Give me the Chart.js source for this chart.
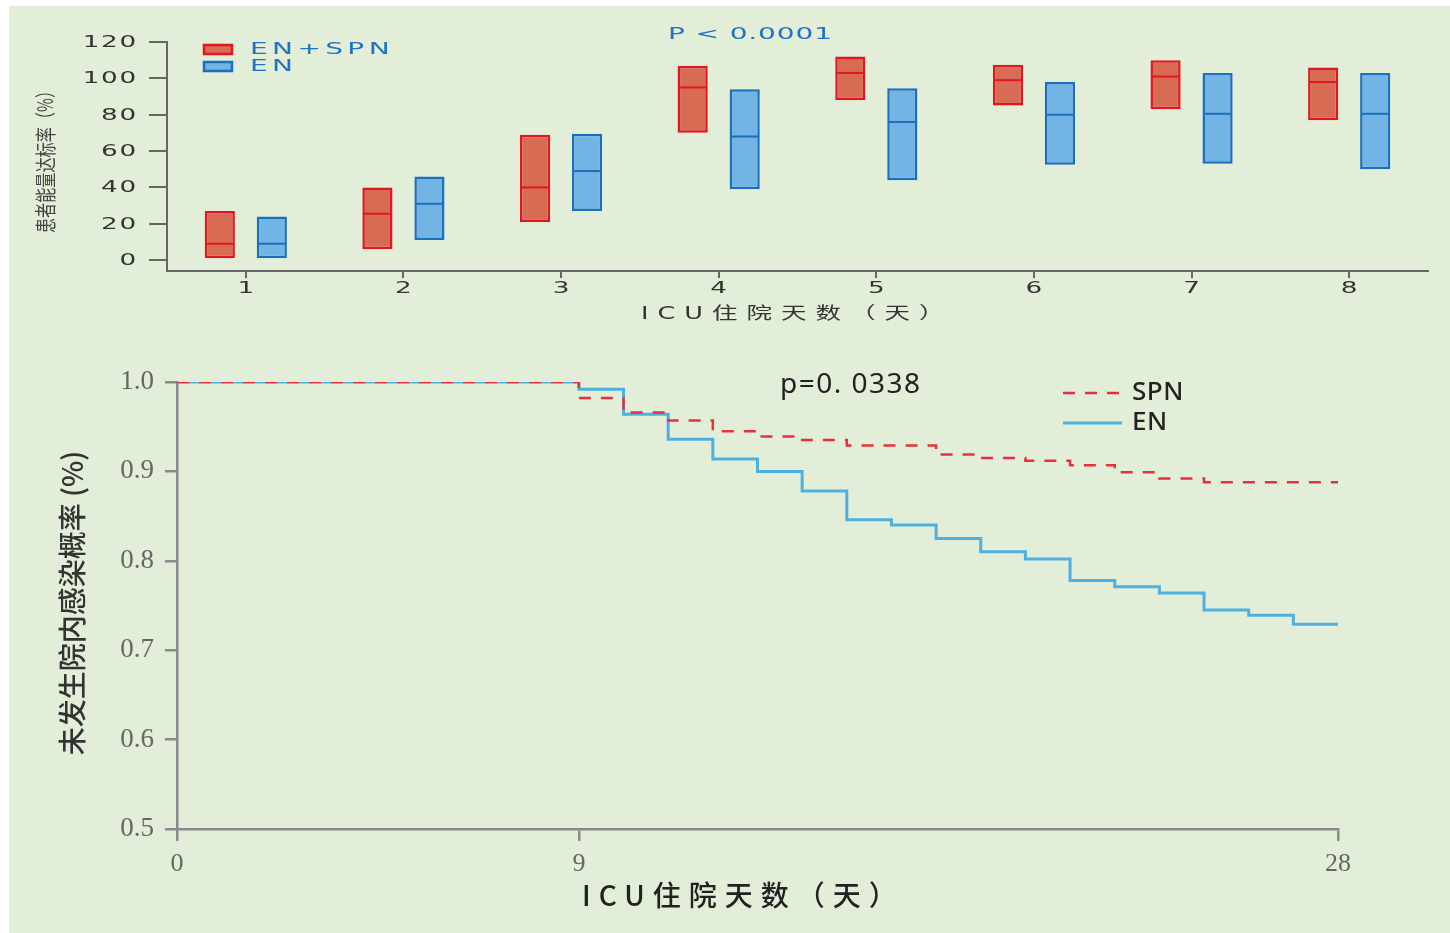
<!DOCTYPE html>
<html>
<head>
<meta charset="utf-8">
<script src="https://cdn.jsdelivr.net/npm/chart.js@4.4.0/dist/chart.umd.min.js"></script>
<style>
  html, body { margin: 0; padding: 0; background: #fff; }
  body { width: 1450px; height: 933px; position: relative; overflow: hidden; }
  #panel { position: absolute; left: 9px; top: 6px; width: 1441px; height: 927px; background: #e2eed8; }
  #boxChart { position: absolute; left: 10px; top: 6px; }
  #kmChart { position: absolute; left: 8px; top: 340px; }
</style>
</head>
<body>
<div id="panel"></div>
<canvas id="boxChart" width="1440" height="330"></canvas>
<canvas id="kmChart" width="1442" height="593"></canvas>
<script>
// ---- top chart: energy target rate per ICU day ----
const dayLabels = ['1', '2', '3', '4', '5', '6', '7', '8'];
const spnLow = [1, 6, 21, 70, 88, 85, 83, 77];
const spnHigh = [27, 40, 69, 107, 112, 107.5, 110, 106];
const spnMedian = [9, 25.5, 40, 95, 103, 99, 101, 98];
const enLow = [1, 11, 27, 39, 44, 52.5, 53, 50];
const enHigh = [24, 46, 69.5, 94, 94.5, 98, 103, 103];
const enMedian = [9, 31, 49, 68, 76, 80, 80.5, 80.5];
const energyTicks = [0, 20, 40, 60, 80, 100, 120];

// ---- bottom chart: infection-free probability ----
const kmDays = [0, 9, 10, 11, 12, 13, 14, 15, 16, 17, 18, 19, 20, 21, 22, 23, 24, 25, 26];
const spnSurvival = [1.0, 0.982, 0.966, 0.957, 0.945, 0.939, 0.935, 0.929, 0.929, 0.919,
  0.915, 0.912, 0.907, 0.899, 0.892, 0.888, 0.888, 0.888, 0.888];
const enSurvival = [1.0, 0.992, 0.964, 0.936, 0.914, 0.900, 0.878, 0.846, 0.840, 0.825,
  0.810, 0.802, 0.778, 0.771, 0.764, 0.745, 0.739, 0.729, 0.729];
const kmXTicks = [0, 9, 26];
const kmXTickLabels = ['0', '9', '28'];
const kmYTicks = [0.5, 0.6, 0.7, 0.8, 0.9, 1.0];

const redLine = '#e3161f', redFill = '#d76b54';
const blueLine = '#1b6fbf', blueFill = '#72b4e3';
const textBlue = '#1f72c4';
const wideFont = '"DejaVu Sans", "Noto Sans CJK SC"';

// text helper; sx stretches the glyphs along the text direction
function drawText(ctx, text, x, y, font, color, align, spacing, rotate, sx) {
  ctx.save();
  ctx.translate(x, y);
  if (rotate) ctx.rotate(rotate);
  if (sx) ctx.scale(sx, 1);
  ctx.font = font;
  ctx.fillStyle = color;
  ctx.textAlign = align || 'left';
  ctx.textBaseline = 'middle';
  ctx.letterSpacing = spacing || '0px';
  ctx.fillText(text, 0, 0);
  ctx.restore();
}

const medianLines = {
  id: 'medianLines',
  afterDatasetsDraw(chart) {
    const ctx = chart.ctx, y = chart.scales.y;
    chart.data.datasets.forEach((ds, i) => {
      chart.getDatasetMeta(i).data.forEach((bar, j) => {
        const py = y.getPixelForValue(ds.medians[j]);
        const half = bar.width / 2 - 1;
        ctx.save();
        ctx.strokeStyle = ds.borderColor;
        ctx.lineWidth = 2;
        ctx.beginPath();
        ctx.moveTo(bar.x - half, py);
        ctx.lineTo(bar.x + half, py);
        ctx.stroke();
        ctx.restore();
      });
    });
  }
};

// the top panel uses a wide lettering, so its labels are drawn here
const boxTexts = {
  id: 'boxTexts',
  afterDraw(chart) {
    const ctx = chart.ctx, xs = chart.scales.x, ys = chart.scales.y;
    energyTicks.forEach(v => {
      drawText(ctx, String(v), 128, ys.getPixelForValue(v) + 1, '15px ' + wideFont, '#333', 'right', '1px', 0, 1.75);
    });
    dayLabels.forEach((lab, i) => {
      drawText(ctx, lab, xs.getPixelForTick(i), 283, '15px ' + wideFont, '#333', 'center', '0px', 0, 1.75);
    });
    chart.data.datasets.forEach((ds, i) => {
      const top = 38 + i * 17;
      ctx.save();
      ctx.fillStyle = ds.backgroundColor;
      ctx.strokeStyle = ds.borderColor;
      ctx.lineWidth = 2.5;
      ctx.fillRect(193, top, 30, 11);
      ctx.strokeRect(194, top + 1, 28, 9);
      ctx.restore();
      drawText(ctx, ds.label, 240, top + 6, '16px ' + wideFont, textBlue, 'left', '2.5px', 0, 1.75);
    });
    drawText(ctx, 'P < 0.0001', 658, 29, '16px ' + wideFont, textBlue, 'left', '0.5px', 0, 1.75);
    drawText(ctx, 'ICU住院天数（天）', 631, 309, '17px ' + wideFont, '#333', 'left', '6px', 0, 1.5);
    drawText(ctx, '患者能量达标率（%）', 35, 152, '21px "Noto Sans CJK SC"', '#444', 'center', '0px', -Math.PI / 2, 0.72);
  }
};

new Chart(document.getElementById('boxChart'), {
  type: 'bar',
  data: {
    labels: dayLabels,
    datasets: [
      {
        label: 'EN+SPN',
        data: spnLow.map((v, i) => [v, spnHigh[i]]),
        medians: spnMedian,
        backgroundColor: redFill,
        borderColor: redLine,
        borderWidth: 2.5,
        borderSkipped: false,
        categoryPercentage: 0.66,
        barPercentage: 0.58
      },
      {
        label: 'EN',
        data: enLow.map((v, i) => [v, enHigh[i]]),
        medians: enMedian,
        backgroundColor: blueFill,
        borderColor: blueLine,
        borderWidth: 2.5,
        borderSkipped: false,
        categoryPercentage: 0.66,
        barPercentage: 0.58
      }
    ]
  },
  options: {
    responsive: false,
    animation: false,
    layout: { padding: { left: 0, top: 36, right: 22, bottom: 0 } },
    plugins: { legend: { display: false }, tooltip: { enabled: false } },
    scales: {
      x: {
        afterFit: s => { s.height = 65; },
        ticks: { display: false },
        grid: { drawOnChartArea: false, offset: false, tickLength: 7, color: '#666', lineWidth: 2 },
        border: { color: '#666', width: 2 }
      },
      y: {
        min: -6,
        max: 120,
        afterBuildTicks: a => { a.ticks = energyTicks.map(v => ({ value: v })); },
        afterFit: s => { s.width = 157; },
        ticks: { display: false },
        grid: { drawOnChartArea: false, tickLength: 18, color: '#666', lineWidth: 2 },
        border: { color: '#666', width: 2 }
      }
    }
  },
  plugins: [medianLines, boxTexts]
});

const kmTexts = {
  id: 'kmTexts',
  afterDraw(chart) {
    const ctx = chart.ctx;
    drawText(ctx, 'p=0. 0338', 772, 45, '28px "Noto Sans"', '#222', 'left', '1.5px');
    chart.data.datasets.forEach((ds, i) => {
      const y = 53 + i * 30;
      ctx.save();
      ctx.strokeStyle = ds.borderColor;
      ctx.lineWidth = ds.borderWidth;
      ctx.setLineDash(ds.borderDash || []);
      ctx.beginPath();
      ctx.moveTo(1055, y);
      ctx.lineTo(1114, y);
      ctx.stroke();
      ctx.restore();
      drawText(ctx, ds.label, 1124, y, '500 26px "Noto Sans"', '#222', 'left', '0.5px');
    });
    drawText(ctx, 'ICU住院天数（天）', 574, 555, '500 28px "Noto Sans CJK SC"', '#222', 'left', '8px');
    drawText(ctx, '未发生院内感染概率 (%)', 64, 263, '500 28px "Noto Sans CJK SC"', '#333', 'center', '0px', -Math.PI / 2);
  }
};

new Chart(document.getElementById('kmChart'), {
  type: 'line',
  data: {
    datasets: [
      {
        label: 'SPN',
        data: kmDays.map((d, i) => ({ x: d, y: spnSurvival[i] })),
        stepped: true,
        borderColor: '#e8303a',
        borderWidth: 2.5,
        borderDash: [12, 10],
        pointRadius: 0,
        fill: false
      },
      {
        label: 'EN',
        data: kmDays.map((d, i) => ({ x: d, y: enSurvival[i] })),
        stepped: true,
        borderColor: '#4db0e2',
        borderWidth: 3,
        pointRadius: 0,
        fill: false
      }
    ]
  },
  options: {
    responsive: false,
    animation: false,
    layout: { padding: { left: 0, top: 42, right: 112, bottom: 0 } },
    plugins: { legend: { display: false }, tooltip: { enabled: false } },
    scales: {
      x: {
        type: 'linear',
        min: 0,
        max: 26,
        afterBuildTicks: a => { a.ticks = kmXTicks.map(v => ({ value: v })); },
        afterFit: s => { s.height = 104; },
        ticks: {
          callback: (v, i) => kmXTickLabels[i],
          autoSkip: false, maxRotation: 0,
          color: '#666', font: { family: 'Liberation Serif', size: 26 }, padding: 8
        },
        grid: { drawOnChartArea: false, tickLength: 12, color: '#8a8a8a', lineWidth: 2.5 },
        border: { color: '#8a8a8a', width: 2.5 }
      },
      y: {
        min: 0.5,
        max: 1.0,
        afterBuildTicks: a => { a.ticks = kmYTicks.map(v => ({ value: v })); },
        afterFit: s => { s.width = 169; },
        ticks: {
          callback: v => v.toFixed(1),
          color: '#666', font: { family: 'Liberation Serif', size: 27 }, padding: 11
        },
        grid: { drawOnChartArea: false, tickLength: 12, color: '#8a8a8a', lineWidth: 2.5 },
        border: { color: '#8a8a8a', width: 2.5 }
      }
    }
  },
  plugins: [kmTexts]
});
</script>
</body>
</html>
